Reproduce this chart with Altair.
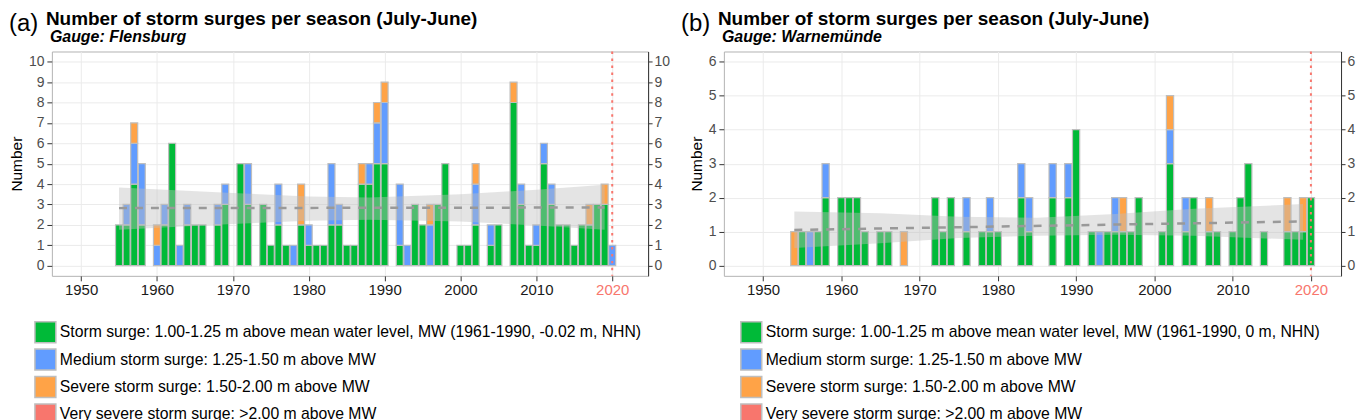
import altair as alt
import pandas as pd

FONT = "Liberation Sans"

TITLE = "Number of storm surges per season (July-June)"
CATS_A = [
    "Storm surge: 1.00-1.25 m above mean water level, MW (1961-1990, -0.02 m, NHN)",
    "Medium storm surge: 1.25-1.50 m above MW",
    "Severe storm surge: 1.50-2.00 m above MW",
    "Very severe storm surge: >2.00 m above MW",
]
CATS_B = [
    "Storm surge: 1.00-1.25 m above mean water level, MW (1961-1990, 0 m, NHN)",
    "Medium storm surge: 1.25-1.50 m above MW",
    "Severe storm surge: 1.50-2.00 m above MW",
    "Very severe storm surge: >2.00 m above MW",
]
COLORS = ["#00BA38", "#619CFF", "#FFA347", "#F8766D"]

# ---- Flensburg (a) ----
years_a = list(range(1955, 2021))
storm_a = [2, 2, 4, 2, 0, 0, 2, 6, 0, 2, 2, 2, 0, 2, 3, 0, 5, 3, 0, 3, 1, 2, 1, 0, 2, 1,
           1, 1, 2, 2, 1, 1, 4, 4, 5, 5, 0, 1, 0, 3, 2, 0, 3, 5, 0, 1, 1, 2, 0, 1,
           2, 0, 8, 3, 1, 1, 5, 3, 2, 2, 1, 2, 2, 3, 3, 0]
medium_a = [0, 1, 2, 3, 0, 1, 1, 0, 1, 1, 0, 0, 0, 1, 1, 0, 0, 2, 0, 0, 0, 2, 0, 1, 0, 1,
            0, 0, 3, 1, 0, 0, 0, 1, 2, 3, 0, 3, 1, 0, 0, 2, 0, 0, 0, 0, 0, 2, 0, 1,
            0, 0, 0, 1, 0, 1, 1, 1, 0, 0, 0, 0, 0, 0, 0, 1]
severe_a = [0, 0, 1, 0, 0, 1, 0, 0, 0, 0, 0, 0, 0, 0, 0, 0, 0, 0, 0, 0, 0, 0, 0, 0, 2, 0,
            0, 0, 0, 0, 0, 0, 1, 0, 1, 1, 0, 0, 0, 0, 0, 1, 0, 0, 0, 0, 0, 1, 0, 0,
            0, 0, 1, 0, 0, 0, 0, 0, 0, 0, 0, 0, 1, 0, 1, 0]
trend_years_a = [1955, 2019]
trend_a = [2.82, 2.85]
band_years_a = [1955, 1970, 1980, 1988, 2000, 2010, 2019]
band_lo_a = [1.76, 2.04, 2.20, 2.25, 2.17, 1.97, 1.76]
band_hi_a = [3.83, 3.56, 3.39, 3.34, 3.50, 3.72, 3.96]

# ---- Warnemuende (b) ----
years_b = list(range(1954, 2021))
storm_b = [0, 1, 0, 1, 2, 0, 2, 2, 2, 1, 0, 1, 1, 0, 0, 0, 0, 0, 2, 1, 2, 0, 1, 0, 1, 1,
           1, 0, 0, 2, 1, 0, 0, 2, 0, 2, 4, 0, 1, 0, 1, 1, 1, 1, 2, 0, 0, 1, 3, 0,
           1, 2, 0, 1, 1, 0, 1, 2, 3, 0, 1, 0, 0, 1, 1, 1, 2]
medium_b = [0, 0, 1, 0, 1, 0, 0, 0, 0, 0, 0, 0, 0, 0, 0, 0, 0, 0, 0, 0, 0, 0, 1, 0, 0, 1,
            0, 0, 0, 1, 1, 0, 0, 1, 0, 1, 0, 0, 0, 1, 0, 1, 0, 0, 0, 0, 0, 0, 1, 0,
            1, 0, 0, 0, 0, 0, 0, 0, 0, 0, 0, 0, 0, 0, 0, 0, 0]
severe_b = [1, 0, 0, 0, 0, 0, 0, 0, 0, 0, 0, 0, 0, 0, 1, 0, 0, 0, 0, 0, 0, 0, 0, 0, 0, 0,
            0, 0, 0, 0, 0, 0, 0, 0, 0, 0, 0, 0, 0, 0, 0, 0, 1, 0, 0, 0, 0, 0, 1, 0,
            0, 0, 0, 1, 0, 0, 0, 0, 0, 0, 0, 0, 0, 1, 0, 1, 0]
trend_years_b = [1954, 2019]
trend_b = [1.05, 1.30]
band_years_b = [1954, 1965, 1975, 1985, 1995, 2005, 2019]
band_lo_b = [0.52, 0.66, 0.81, 0.88, 0.91, 0.88, 0.76]
band_hi_b = [1.59, 1.54, 1.44, 1.41, 1.52, 1.67, 1.81]

X_TICKS = [1950, 1960, 1970, 1980, 1990, 2000, 2010, 2020]


def panel(letter, gauge, cats, years, storm, medium, severe, tyears, trend,
          byears, blo, bhi, ymax, xdom, width, height, legend_x):
    rows = []
    for i, y in enumerate(years):
        for k, vals in enumerate([storm, medium, severe]):
            rows.append({"year": y, "cat": cats[k], "ord": k, "n": vals[i]})
    df = pd.DataFrame(rows)
    trend_df = pd.DataFrame({"year": tyears, "trend": trend})
    band_df = pd.DataFrame({"year": byears, "lo": blo, "hi": bhi})

    xs = alt.Scale(domain=xdom, nice=False, zero=False)
    ys = alt.Scale(domain=[-0.05 * ymax, 1.05 * ymax], nice=False, zero=False)
    x_axis = alt.Axis(
        values=X_TICKS, format="d", title=None, grid=True, gridColor="#EBEBEB",
        gridWidth=1, domain=False, ticks=True, tickColor="#333333", tickSize=5,
        labelPadding=2, labelFont=FONT, labelFontSize=15,
        labelColor={"condition": {"test": "datum.value == 2020", "value": "#F8766D"},
                    "value": "#1A1A1A"},
    )
    y_ticks = list(range(0, ymax + 1))
    y_left = alt.Axis(
        values=y_ticks, title="Number", grid=True, gridColor="#EBEBEB", gridWidth=1,
        domain=False, tickColor="#333333", tickSize=5, labelPadding=3,
        labelFont=FONT, labelFontSize=14, labelColor="#4D4D4D",
        titleFont=FONT, titleFontSize=15.5, titleFontWeight="normal",
        titleColor="#000000", titlePadding=4,
    )
    y_right = alt.Axis(
        values=y_ticks, title=None, orient="right", grid=False, domain=True,
        domainColor="#333333", domainWidth=1, tickColor="#333333", tickSize=4,
        labelPadding=2, labelFont=FONT, labelFontSize=14, labelColor="#4D4D4D",
    )

    bars = (
        alt.Chart(df)
        .transform_filter("datum.n > 0")
        .transform_stack(stack="n", groupby=["year"], as_=["y0", "y1"],
                         sort=[alt.SortField("ord", order="ascending")])
        .transform_calculate(xa="datum.year - 0.46", xb="datum.year + 0.46")
        .mark_bar(stroke="#BEBEBE", strokeWidth=1.2)
        .encode(
            x=alt.X("xa:Q", scale=xs, axis=x_axis),
            x2="xb:Q",
            y=alt.Y("y0:Q", scale=ys, axis=y_left),
            y2="y1:Q",
            color=alt.Color(
                "cat:N",
                scale=alt.Scale(domain=cats, range=COLORS),
                legend=alt.Legend(
                    orient="none", legendX=legend_x, legendY=height + 45,
                    direction="vertical", title=None, symbolType="square",
                    symbolSize=441, symbolStrokeColor="#BEBEBE",
                    symbolStrokeWidth=1.5, symbolOpacity=1, rowPadding=0.5,
                    labelOffset=3, labelLimit=900, labelFont=FONT,
                    labelFontSize=15.8, labelColor="#000000", padding=0,
                ),
            ),
        )
    )
    band = alt.Chart(band_df).mark_area(color="#BEBEBE", opacity=0.42).encode(
        x=alt.X("year:Q", scale=xs, axis=x_axis),
        y=alt.Y("lo:Q", scale=ys, axis=None),
        y2="hi:Q",
    )
    line = alt.Chart(trend_df).mark_line(
        color="#999999", strokeDash=[8, 8], strokeWidth=2.5
    ).encode(
        x=alt.X("year:Q", scale=xs, axis=x_axis),
        y=alt.Y("trend:Q", scale=ys, axis=None),
    )
    rule = alt.Chart(pd.DataFrame({"year": [2020]})).mark_rule(
        color="#F8766D", strokeDash=[2.5, 4.5], strokeWidth=2
    ).encode(x=alt.X("year:Q", scale=xs, axis=x_axis))
    right = alt.Chart(trend_df).mark_line(opacity=0).encode(
        x=alt.X("year:Q", scale=xs, axis=x_axis),
        y=alt.Y("trend:Q", scale=ys, axis=y_right),
    )
    lab = alt.Chart(pd.DataFrame({"t": [letter]})).mark_text(
        align="left", baseline="middle", font=FONT, fontSize=24, color="#000000"
    ).encode(x=alt.value(-43), y=alt.value(-28), text="t:N")
    ttl = alt.Chart(pd.DataFrame({"t": [TITLE]})).mark_text(
        align="left", baseline="alphabetic", font=FONT, fontSize=19,
        fontWeight="bold", color="#000000"
    ).encode(x=alt.value(-6), y=alt.value(-27), text="t:N")
    sub = alt.Chart(pd.DataFrame({"t": [gauge]})).mark_text(
        align="left", baseline="alphabetic", font=FONT, fontSize=16,
        fontWeight="bold", fontStyle="italic", color="#000000"
    ).encode(x=alt.value(-2), y=alt.value(-10), text="t:N")

    return (
        alt.layer(bars, band, line, rule, right, lab, ttl, sub)
        .resolve_scale(y="independent")
        .properties(width=width, height=height)
    )


pa = panel("(a)", "Gauge: Flensburg", CATS_A, years_a, storm_a, medium_a, severe_a,
           trend_years_a, trend_a, band_years_a, band_lo_a, band_hi_a, 10,
           [1946.15, 2024.73], 598, 225, -18)
pb = panel("(b)", "Gauge: Warnemünde", CATS_B, years_b, storm_b, medium_b, severe_b,
           trend_years_b, trend_b, band_years_b, band_lo_b, band_hi_b, 6,
           [1945.0, 2023.85], 619, 225, 16)

chart = (
    alt.hconcat(pa, pb, spacing=9)
    .resolve_scale(color="independent", x="independent", y="independent")
    .resolve_legend(color="independent")
    .properties(padding=0)
    .configure_view(stroke="#B3B3B3", strokeWidth=1)
)

chart.save("out.html", embed_options={"renderer": "svg", "actions": False})
